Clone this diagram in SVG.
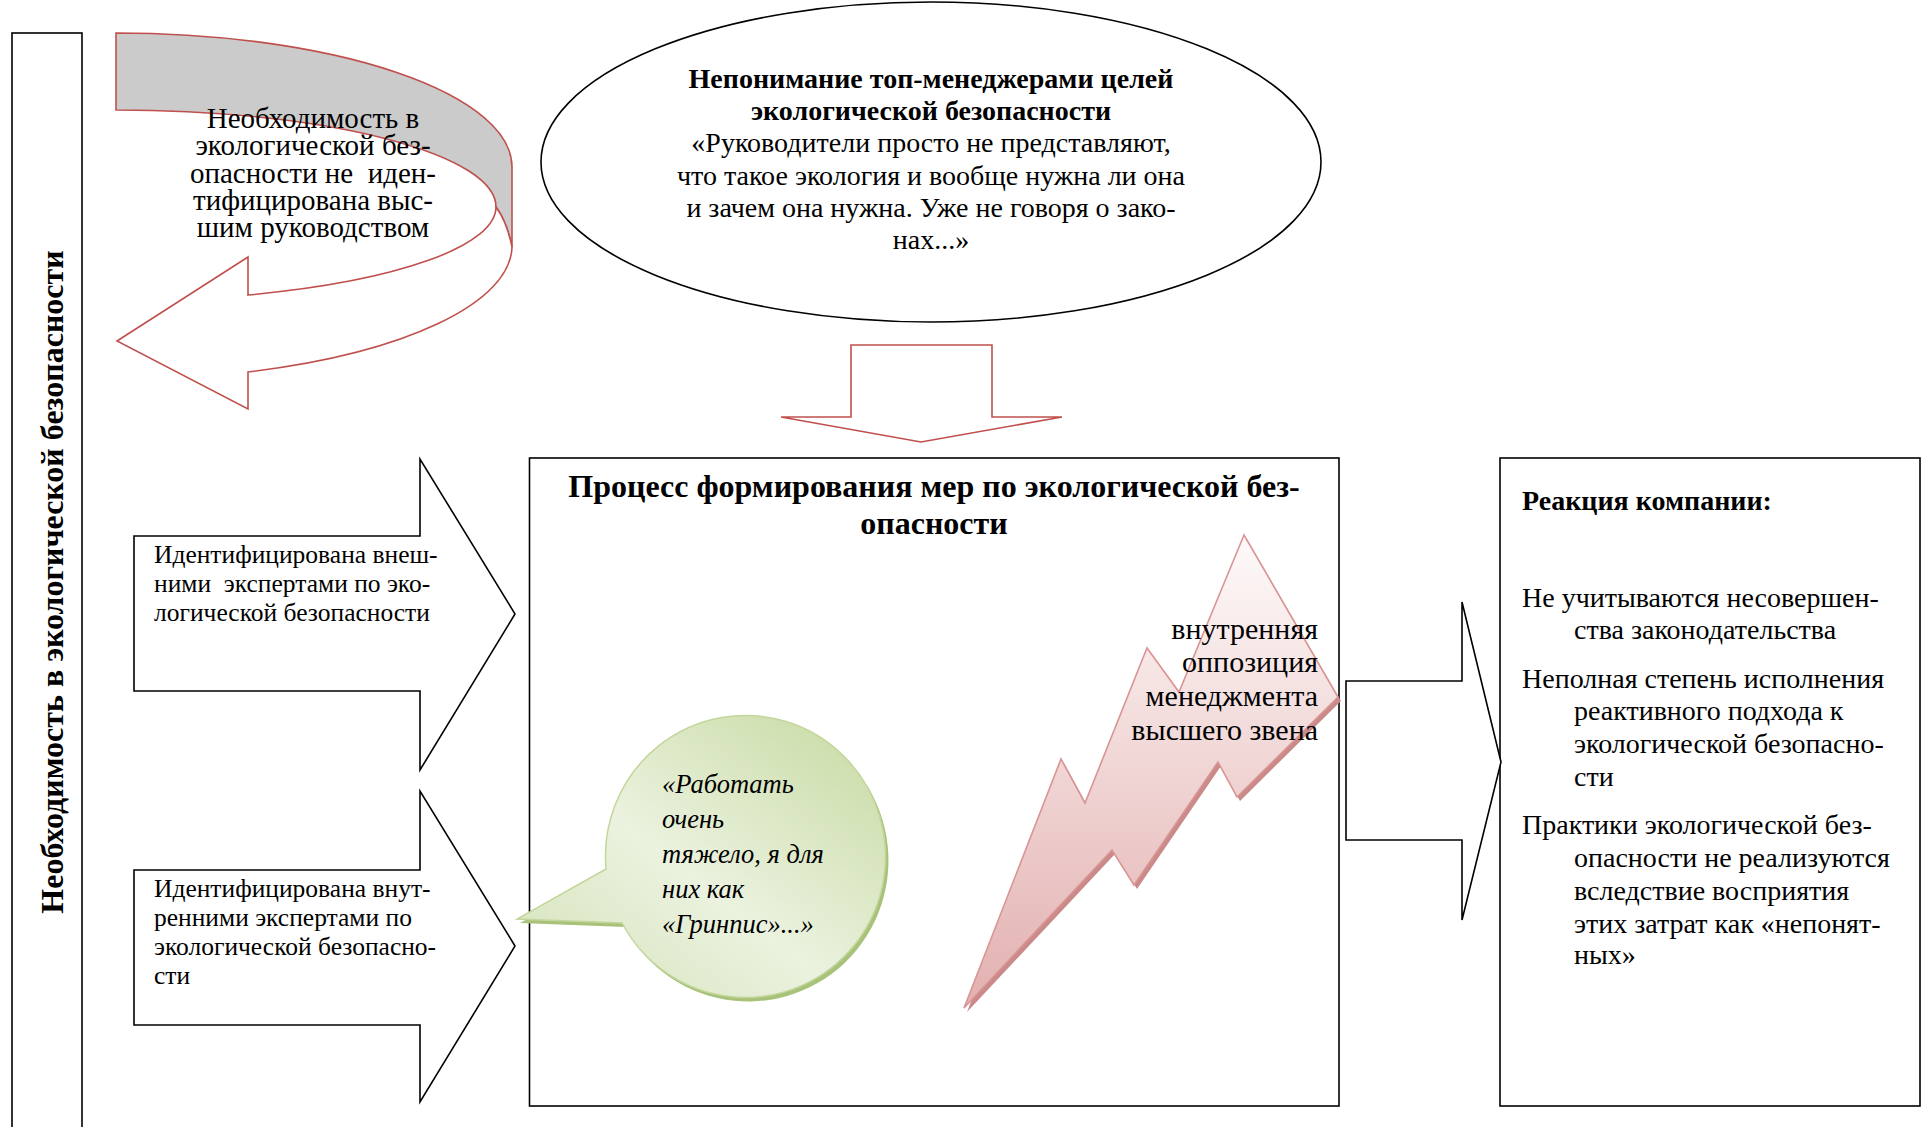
<svg xmlns="http://www.w3.org/2000/svg" width="1923" height="1127" viewBox="0 0 1923 1127">
<defs>
<style>
text{font-family:"Liberation Serif","Times New Roman",serif;fill:#000}
.b{font-weight:bold}
.i{font-style:italic}
.c{text-anchor:middle}
.r{text-anchor:end}
.pre{white-space:pre}
.box{fill:#fff;stroke:#000;stroke-width:1.6}
.blk{fill:#fff;stroke:#000;stroke-width:1.6;stroke-linejoin:miter}
.red{fill:#fff;stroke:#c0504d;stroke-width:1.6}
.arrow-txt{font-size:25.5px}
.ell-txt{font-size:28px}
.side-txt{font-size:32px}
.turn-txt{font-size:29px}
.title-txt{font-size:32px}
.bubble-txt{font-size:26.5px}
.bolt-txt{font-size:30px}
.react-head{font-size:28px}
.react-txt{font-size:28px}
</style>
<linearGradient id="gBubble" x1="1" y1="0" x2="0" y2="1">
<stop offset="0" stop-color="#c6d9a0"/>
<stop offset="0.55" stop-color="#ebf2df"/>
<stop offset="1" stop-color="#d3e2b8"/>
</linearGradient>
<linearGradient id="gBolt" x1="0" y1="0" x2="0" y2="1">
<stop offset="0" stop-color="#fefafa"/>
<stop offset="1" stop-color="#e2b0af"/>
</linearGradient>
</defs>

<!-- vertical side band -->
<g id="side-band">
<rect class="box" x="12" y="33" width="70" height="1110"/>
<text class="b side-txt c" transform="translate(63,582) rotate(-90)">Необходимость в экологической безопасности</text>
</g>

<!-- U-turn arrow with its caption -->
<g id="not-identified">
<path d="M116,33 A396,134 0 0 1 512,167 L512,247 Q507,222 496,207 A380,97 0 0 0 116,110 Z" fill="#cbcbcb" stroke="#c0504d" stroke-width="1.6"/>
<path class="red" d="M512,247 A396,134 0 0 1 248,372 L248,409 L117,341 L248,257 L248,295 A380,94 0 0 0 496,207 Q507,222 512,247 Z"/>
<text class="turn-txt c pre"><tspan x="313" y="128">Необходимость в</tspan><tspan x="313" y="155">экологической без-</tspan><tspan x="313" y="183">опасности не  иден-</tspan><tspan x="313" y="210">тифицирована выс-</tspan><tspan x="313" y="237">шим руководством</tspan></text>
</g>

<!-- top managers ellipse -->
<g id="misunderstanding">
<ellipse class="box" cx="931" cy="162" rx="390" ry="160"/>
<text class="ell-txt c"><tspan class="b" x="931" y="88">Непонимание топ-менеджерами целей</tspan><tspan class="b" x="931" y="120">экологической безопасности</tspan><tspan x="931" y="152">«Руководители просто не представляют,</tspan><tspan x="931" y="185">что такое экология и вообще нужна ли она</tspan><tspan x="931" y="217">и зачем она нужна. Уже не говоря о зако-</tspan><tspan x="931" y="249">нах...»</tspan></text>
</g>

<!-- central process frame -->
<g id="process">
<rect class="box" x="529.5" y="458" width="809.5" height="648"/>
<text class="b title-txt c"><tspan x="934" y="497">Процесс формирования мер по экологической без-</tspan><tspan x="934" y="534">опасности</tspan></text>
</g>

<!-- company reaction frame -->
<g id="reaction">
<rect class="box" x="1500" y="458" width="420" height="648"/>
<text class="b react-head" x="1522" y="510">Реакция компании:</text>
<text class="react-txt">
<tspan x="1522" y="607">Не учитываются несовершен-</tspan>
<tspan x="1574" y="639">ства законодательства</tspan>
<tspan x="1522" y="688">Неполная степень исполнения</tspan>
<tspan x="1574" y="720">реактивного подхода к</tspan>
<tspan x="1574" y="753">экологической безопасно-</tspan>
<tspan x="1574" y="786">сти</tspan>
<tspan x="1522" y="834">Практики экологической без-</tspan>
<tspan x="1574" y="867">опасности не реализуются</tspan>
<tspan x="1574" y="900">вследствие восприятия</tspan>
<tspan x="1574" y="933">этих затрат как «непонят-</tspan>
<tspan x="1574" y="964">ных»</tspan>
</text>
</g>

<!-- external experts arrow -->
<g id="external-experts">
<path class="blk" d="M134,536 L420,536 L420,459 L515,614 L420,770 L420,691 L134,691 Z"/>
<text class="arrow-txt pre"><tspan x="154" y="563">Идентифицирована внеш-</tspan><tspan x="154" y="592">ними  экспертами по эко-</tspan><tspan x="154" y="621">логической безопасности</tspan></text>
</g>

<!-- internal experts arrow -->
<g id="internal-experts">
<path class="blk" d="M134,870 L420,870 L420,791 L515,946 L420,1102 L420,1025 L134,1025 Z"/>
<text class="arrow-txt"><tspan x="154" y="897">Идентифицирована внут-</tspan><tspan x="154" y="926">ренними экспертами по</tspan><tspan x="154" y="955">экологической безопасно-</tspan><tspan x="154" y="984">сти</tspan></text>
</g>

<!-- connectors -->
<g id="connectors">
<path class="red" d="M851,345 L992,345 L992,417 L1062,417 L921,442 L781,417 L851,417 Z"/>
<path class="blk" d="M1346,681 L1462,681 L1462,602 L1501,762 L1462,920 L1462,840 L1346,840 Z"/>
</g>

<!-- speech bubble -->
<g id="quote-bubble">
<path d="M606,869 L517,919 L622,923 A140,141 0 1 0 606,869 Z" fill="#a8c27a" transform="translate(3,4)"/>
<path d="M606,869 L517,919 L622,923 A140,141 0 1 0 606,869 Z" fill="url(#gBubble)" stroke="#c3d69b" stroke-width="1.5"/>
<text class="bubble-txt i"><tspan x="662" y="793">«Работать</tspan><tspan x="662" y="828">очень</tspan><tspan x="662" y="863">тяжело, я для</tspan><tspan x="662" y="898">них как</tspan><tspan x="662" y="933">«Гринпис»...»</tspan></text>
</g>

<!-- lightning: internal opposition -->
<g id="opposition">
<polygon points="964,1008 1061,759 1085,803 1147,648 1179,692 1244,535 1338,697 1237,797 1218,762 1134,885 1112,850" fill="#c98a89" transform="translate(3,4)"/>
<polygon points="964,1008 1061,759 1085,803 1147,648 1179,692 1244,535 1338,697 1237,797 1218,762 1134,885 1112,850" fill="url(#gBolt)" stroke="#d99594" stroke-width="1.6"/>
<text class="bolt-txt r"><tspan x="1318" y="639">внутренняя</tspan><tspan x="1318" y="672">оппозиция</tspan><tspan x="1318" y="706">менеджмента</tspan><tspan x="1318" y="740">высшего звена</tspan></text>
</g>
</svg>
